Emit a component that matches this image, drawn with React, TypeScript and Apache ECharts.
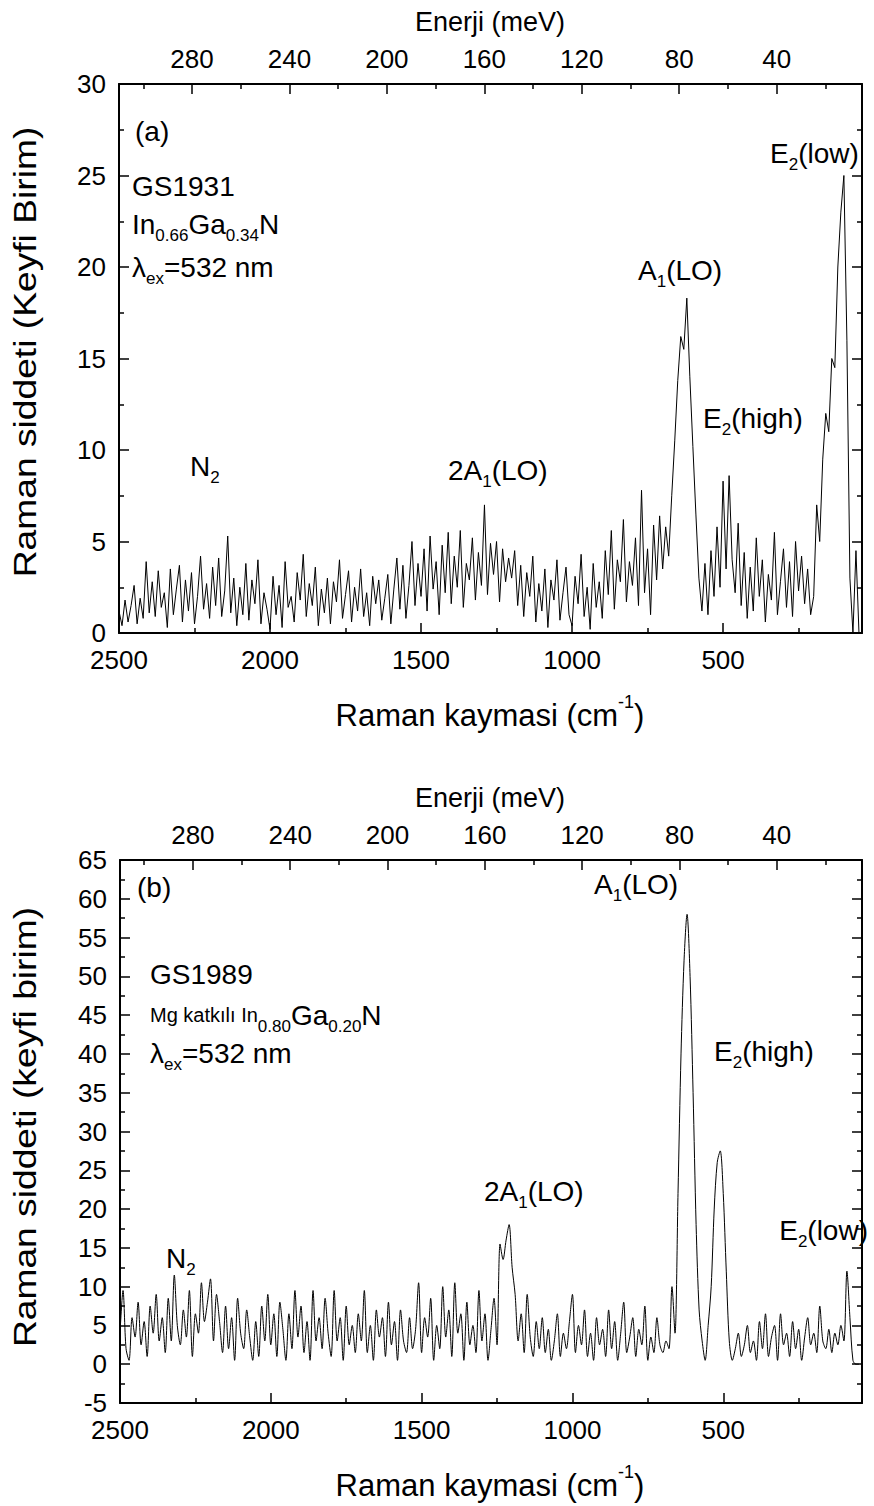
import React, { useEffect, useRef } from "react";
import * as echarts from "echarts";

// ---------- data ----------
// Raman shift grid: 2500 -> 50 cm-1, step 10
const ramanStart = 2500;
const ramanStep = 10;

// Panel (a) GS1931 In0.66Ga0.34N intensity (arb. units), from 2500 down to 50 cm-1
const intensityA: number[] = [
  1.2, 0.4, 1.8, 0.6, 1.5, 2.6, 0.5, 1.9, 0.8, 3.9,
  1.1, 2.8, 0.9, 3.4, 1.4, 2.2, 0.3, 3.5, 1.0, 2.4,
  3.7, 0.6, 2.9, 1.2, 3.3, 0.5, 2.0, 4.2, 1.3, 2.7,
  0.8, 3.6, 1.5, 4.1, 0.9, 2.3, 5.3, 1.1, 3.0, 0.4,
  2.5, 1.0, 3.8, 0.7, 2.9, 1.6, 4.0, 0.5, 2.2, 1.3,
  0.2, 3.1, 1.0, 2.6, 0.3, 3.9, 1.4, 2.0, 0.6, 3.3,
  1.8, 4.3, 0.9, 2.7, 1.5, 3.6, 0.4, 2.4, 1.1, 3.0,
  0.5, 2.8, 1.7, 4.0, 0.8, 2.1, 3.4, 0.6, 2.5, 1.2,
  3.5, 0.9, 2.2, 0.4, 3.1, 1.6, 2.9, 0.7, 1.9, 3.2,
  0.5, 2.4, 4.1, 1.3, 3.7, 0.8, 2.6, 5.0, 1.5, 3.8,
  2.0, 4.6, 1.2, 5.3, 2.4, 3.9, 1.0, 4.8, 2.2, 5.5,
  1.6, 4.2, 2.5, 5.6, 1.4, 3.8, 2.9, 5.2, 1.8, 4.4,
  2.6, 7.0, 2.1, 4.9, 3.2, 5.0, 1.7, 4.6, 2.8, 4.1,
  3.0, 4.5, 1.5, 3.7, 0.9, 3.3, 2.0, 4.2, 0.6, 2.7,
  1.2, 3.5, 0.3, 2.9, 1.8, 4.0, 0.7, 2.2, 3.6, 1.0,
  0.4, 3.1, 1.6, 4.3, 0.9, 2.5, 0.2, 3.8, 1.4, 2.8,
  0.8, 4.5, 2.1, 5.6, 1.3, 4.0, 2.8, 6.2, 1.7, 3.9,
  2.6, 5.2, 1.5, 7.8, 2.2, 4.6, 1.0, 5.9, 2.9, 6.4,
  3.5, 5.8, 4.2, 7.5, 10.5, 13.8, 16.2, 15.5, 18.3, 14.0,
  10.2, 6.5, 3.0, 1.2, 3.8, 1.0, 4.5, 2.0, 5.8, 2.5,
  8.3, 3.5, 8.6, 4.0, 2.2, 6.0, 1.5, 4.4, 0.8, 3.6,
  1.2, 5.2, 2.0, 4.0, 0.6, 3.2, 1.8, 5.5, 1.0, 2.8,
  4.6, 1.4, 3.9, 0.9, 5.0, 2.3, 4.2, 1.6, 3.5, 1.0,
  2.0, 7.0, 5.0, 9.5, 12.0, 11.0, 15.0, 14.5, 20.0, 23.0,
  25.0, 16.0, 3.0, 0.0, 4.5, 0.0,
];

// Panel (b) GS1989 Mg-doped In0.80Ga0.20N intensity, from 2500 down to 50 cm-1
const intensityB: number[] = [
  4.0, 9.5, 2.0, 0.5, 6.0, 3.5, 8.0, 2.5, 5.5, 1.0,
  7.5, 4.0, 9.0, 3.0, 6.0, 1.5, 8.5, 3.0, 11.5, 5.0,
  2.5, 7.0, 3.5, 9.5, 1.0, 6.5, 4.0, 10.5, 5.5, 8.0,
  11.0, 3.0, 9.0, 5.5, 1.5, 7.5, 2.0, 6.0, 0.5, 8.5,
  4.0, 2.0, 7.0, 3.5, 0.5, 5.5, 1.0, 7.5, 3.0, 9.0,
  2.5, 6.5, 1.0, 8.0, 4.5, 0.5, 6.5, 2.0, 9.5, 3.5,
  7.5, 1.5, 5.5, 0.5, 9.5, 3.0, 6.0, 2.0, 8.5, 4.0,
  1.0, 9.5, 3.0, 6.0, 0.5, 7.5, 2.5, 5.0, 1.5, 6.5,
  3.0, 9.5, 1.5, 5.0, 0.5, 7.0, 3.5, 6.0, 1.0, 8.0,
  2.5, 5.5, 0.5, 7.0, 3.0, 1.5, 6.0, 2.0, 4.5, 10.5,
  1.5, 6.0, 3.5, 8.5, 0.5, 5.0, 2.0, 10.0, 3.5, 7.0,
  1.0, 10.5, 4.0, 6.5, 0.5, 8.0, 2.5, 5.0, 1.5, 9.5,
  3.0, 6.5, 0.5, 4.5, 8.5, 2.5, 15.5, 13.5, 16.0, 18.0,
  12.5, 9.0, 3.0, 6.5, 1.5, 9.0, 3.5, 1.0, 5.5, 2.0,
  6.0, 1.5, 4.5, 0.5, 3.0, 6.5, 1.0, 4.0, 2.0, 5.5,
  9.0, 1.5, 5.0, 2.5, 7.0, 1.0, 4.0, 0.5, 6.0, 2.5,
  4.5, 1.0, 7.0, 2.0, 5.5, 0.5, 4.0, 8.0, 1.5, 3.5,
  6.0, 1.0, 4.5, 2.5, 7.5, 0.5, 3.5, 1.5, 6.0, 2.5,
  1.5, 3.0, 2.0, 10.0, 4.0, 22.0, 40.0, 52.0, 58.0, 50.0,
  35.0, 18.0, 7.0, 3.0, 0.5, 5.0, 10.0, 20.0, 26.0, 27.5,
  22.0, 12.0, 3.0, 0.5, 2.0, 4.0, 1.0, 2.5, 5.0, 1.5,
  3.0, 0.5, 5.5, 2.0, 6.5, 1.0, 3.5, 5.0, 0.5, 6.5,
  2.5, 4.0, 1.0, 5.5, 2.0, 4.5, 0.5, 3.5, 6.0, 2.5,
  4.0, 1.5, 7.5, 3.0, 2.0, 4.5, 1.5, 4.0, 2.5, 5.0,
  3.0, 12.0, 6.0, 0.5, 0.0, 0.0,
];

// axis ticks
const ramanMajor = [500, 1000, 1500, 2000, 2500];
const ramanMinor = [250, 750, 1250, 1750, 2250];
const energyMajor = [40, 80, 120, 160, 200, 240, 280];
const energyMinor = [20, 60, 100, 140, 180, 220, 260, 300];
const ramanMin = 40;
const ramanMax = 2500;
const cmPerMeV = 8.0655;

// ---------- layout ----------
const FONT = 'Arial, "Liberation Sans", Helvetica, sans-serif';
const FS = 28; // annotations
const TICK_FS = 26;
const panels = [
  { left: 119, top: 84, width: 743, height: 549, yMin: 0, yMax: 30 },
  { left: 120, top: 860, width: 742, height: 543, yMin: -5, yMax: 65 },
];

const rich = {
  b: { fontSize: FS, lineHeight: 40, verticalAlign: "middle", fontFamily: FONT, color: "#000" },
  s: { fontSize: 17, lineHeight: 17, verticalAlign: "bottom", fontFamily: FONT, color: "#000" },
  t: { fontSize: 27, lineHeight: 40, verticalAlign: "middle", fontFamily: FONT, color: "#000" },
  T: { fontSize: 31, lineHeight: 44, verticalAlign: "middle", fontFamily: FONT, color: "#000" },
  Y: { fontSize: 31, lineHeight: 44, verticalAlign: "middle", fontFamily: FONT, color: "#000" },
  p: { fontSize: 18, lineHeight: 18, verticalAlign: "top", fontFamily: FONT, color: "#000" },
  m: { fontSize: 20, lineHeight: 40, verticalAlign: "middle", fontFamily: FONT, color: "#000" },
};

function label(x: number, y: number, text: string, align = "left", rotation = 0, stretch = 1) {
  return {
    type: "text",
    x,
    y,
    rotation,
    scaleX: stretch,
    silent: true,
    style: {
      text,
      rich,
      align,
      verticalAlign: "middle",
      fill: "#000",
      font: `${FS}px ${FONT}`,
    },
  };
}

const plain = (v: number) => String(v);

export default function App() {
  const ref = useRef<HTMLDivElement>(null);
  useEffect(() => {
    if (!ref.current) return;
    const chart = echarts.init(ref.current, undefined, { renderer: "svg" });
    const xs = intensityA.map((_, i) => ramanStart - i * ramanStep);

    const grids = panels.map((p) => ({
      left: p.left,
      top: p.top,
      width: p.width,
      height: p.height,
      containLabel: false,
    }));

    const axisLine = { show: true, onZero: false, lineStyle: { color: "#000", width: 2 } };
    const tickStyle = { color: "#000", width: 1.5 };
    const labelStyle = {
      fontSize: TICK_FS, lineHeight: 20, color: "#000", fontFamily: FONT, margin: 12, formatter: plain,
    };

    const xAxes: any[] = [];
    const yAxes: any[] = [];
    panels.forEach((p, gi) => {
      // bottom major
      xAxes.push({
        type: "value", gridIndex: gi, position: "bottom", min: ramanMin, max: ramanMax, inverse: true,
        axisLine, splitLine: { show: false },
        axisTick: { inside: true, length: 10, lineStyle: tickStyle, customValues: ramanMajor },
        axisLabel: { ...labelStyle, margin: 17, customValues: ramanMajor, showMinLabel: true, showMaxLabel: true },
      });
      // bottom minor
      xAxes.push({
        type: "value", gridIndex: gi, position: "bottom", min: ramanMin, max: ramanMax, inverse: true,
        axisLine: { show: false, onZero: false }, splitLine: { show: false }, axisLabel: { show: false },
        axisTick: { inside: true, length: 5, lineStyle: tickStyle, customValues: ramanMinor },
      });
      // top major (energy)
      xAxes.push({
        type: "value", gridIndex: gi, position: "top", min: ramanMin / cmPerMeV, max: ramanMax / cmPerMeV, inverse: true,
        axisLine, splitLine: { show: false },
        axisTick: { inside: true, length: 10, lineStyle: tickStyle, customValues: energyMajor },
        axisLabel: { ...labelStyle, margin: 15, customValues: energyMajor },
      });
      // top minor
      xAxes.push({
        type: "value", gridIndex: gi, position: "top", min: ramanMin / cmPerMeV, max: ramanMax / cmPerMeV, inverse: true,
        axisLine: { show: false, onZero: false }, splitLine: { show: false }, axisLabel: { show: false },
        axisTick: { inside: true, length: 5, lineStyle: tickStyle, customValues: energyMinor },
      });
      yAxes.push({
        type: "value", gridIndex: gi, position: "left", min: p.yMin, max: p.yMax, interval: 5,
        axisLine, splitLine: { show: false },
        axisTick: { inside: true, length: 10, lineStyle: tickStyle },
        minorTick: { show: true, splitNumber: 2, length: 5, lineStyle: tickStyle },
        axisLabel: { ...labelStyle, margin: 13 },
      });
      yAxes.push({
        type: "value", gridIndex: gi, position: "right", min: p.yMin, max: p.yMax, interval: 5,
        axisLine, splitLine: { show: false },
        axisTick: { inside: true, length: 10, lineStyle: tickStyle },
        minorTick: { show: true, splitNumber: 2, length: 5, lineStyle: tickStyle },
        axisLabel: { show: false },
      });
    });

    const series = [
      {
        type: "line", xAxisIndex: 0, yAxisIndex: 0, showSymbol: false, silent: true,
        data: xs.map((x, i) => [x, intensityA[i]]),
        lineStyle: { color: "#000", width: 1 },
      },
      {
        type: "line", xAxisIndex: 4, yAxisIndex: 2, showSymbol: false, silent: true, smooth: 0.3,
        data: xs.map((x, i) => [x, intensityB[i]]),
        lineStyle: { color: "#000", width: 1 },
      },
    ];

    const graphics = [
      // panel a titles
      label(490, 22, "{t|Enerji (meV)}", "center"),
      label(490, 715, "{T|Raman kaymasi (cm}{p|-1}{T|)}", "center"),
      label(25, 352, "{Y|Raman siddeti (Keyfi Birim)}", "center", Math.PI / 2, 1.2),
      // panel a annotations
      label(135, 131, "{b|(a)}"),
      label(132, 186, "{b|GS1931}"),
      label(132, 224, "{b|In}{s|0.66}{b|Ga}{s|0.34}{b|N}"),
      label(132, 267, "{b|λ}{s|ex}{b|=532 nm}"),
      label(770, 153, "{b|E}{s|2}{b|(low)}"),
      label(638, 270, "{b|A}{s|1}{b|(LO)}"),
      label(703, 418, "{b|E}{s|2}{b|(high)}"),
      label(448, 470, "{b|2A}{s|1}{b|(LO)}"),
      label(190, 466, "{b|N}{s|2}"),
      // panel b titles
      label(490, 798, "{t|Enerji (meV)}", "center"),
      label(490, 1485, "{T|Raman kaymasi (cm}{p|-1}{T|)}", "center"),
      label(25, 1127, "{Y|Raman siddeti (keyfi birim)}", "center", Math.PI / 2, 1.2),
      // panel b annotations
      label(137, 887, "{b|(b)}"),
      label(150, 974, "{b|GS1989}"),
      label(150, 1015, "{m|Mg katkılı In}{s|0.80}{b|Ga}{s|0.20}{b|N}"),
      label(150, 1053, "{b|λ}{s|ex}{b|=532 nm}"),
      label(594, 884, "{b|A}{s|1}{b|(LO)}"),
      label(714, 1051, "{b|E}{s|2}{b|(high)}"),
      label(484, 1191, "{b|2A}{s|1}{b|(LO)}"),
      label(868, 1230, "{b|E}{s|2}{b|(low)}", "right"),
      label(166, 1258, "{b|N}{s|2}"),
    ];

    chart.setOption({
      animation: false,
      backgroundColor: "#fff",
      grid: grids,
      xAxis: xAxes,
      yAxis: yAxes,
      series,
      graphic: { elements: graphics },
    });
    return () => chart.dispose();
  }, []);

  return (
    <div
      ref={ref}
      style={{ position: "absolute", left: 0, top: 0, width: 874, height: 1506, background: "#fff" }}
    />
  );
}
